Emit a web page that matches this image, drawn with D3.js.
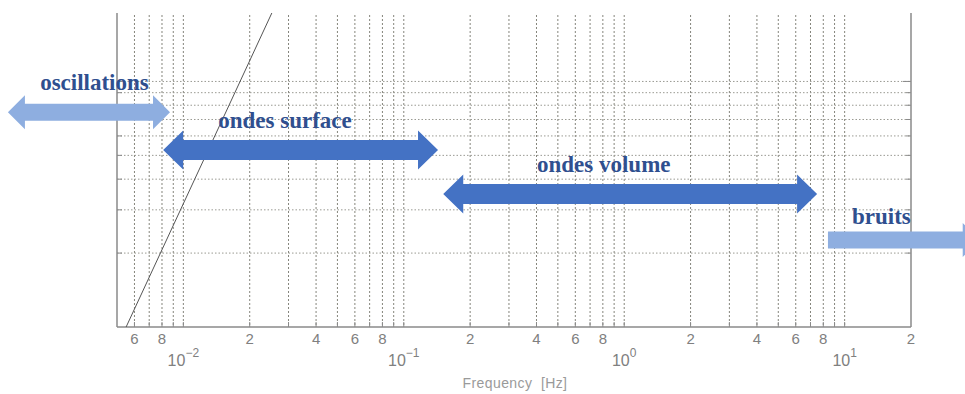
<!DOCTYPE html>
<html>
<head>
<meta charset="utf-8">
<script src="https://cdn.jsdelivr.net/npm/d3@7"></script>
<style>
  html, body { margin: 0; padding: 0; background: #fff; }
  svg { display: block; }
</style>
</head>
<body>
<svg id="chart" width="965" height="394"></svg>
<script>
// axes (log-log)
const freqDomain = [0.005, 20];
const ampDomain = [1, 19];
const minorTickValues = [0.006, 0.008, 0.02, 0.04, 0.06, 0.08, 0.2, 0.4, 0.6, 0.8, 2, 4, 6, 8, 20];
const minorTickLabels = ["6", "8", "2", "4", "6", "8", "2", "4", "6", "8", "2", "4", "6", "8", "2"];
const decadeValues = [0.01, 0.1, 1, 10];
const decadeExponents = ["−2", "−1", "0", "1"];
const ampGridValues = [2, 3, 4, 5, 6, 7, 8, 9, 10];

// straight line on the log-log grid
const slopeLine = [[0.0055, 1], [0.0252, 19]];

// frequency bands, drawn as arrows
const bandNames = ["oscillations", "ondes surface", "ondes volume", "bruits"];
const bandFrom = [0.0016, 0.0081, 0.151, 8.4];
const bandTo = [0.0087, 0.143, 7.5, 41];
const bandLevel = [7.5, 5.26, 3.48, 2.26];
const bandLabelAt = [0.00224, 0.0144, 0.402, 10.8];
const bandTwoWay = [true, true, true, false];
const bandStrong = [false, true, true, false];

const width = 965, height = 394;
const margin = { top: 13, right: 54, bottom: 67, left: 117 };

const svg = d3.select('#chart');

const x = d3.scaleLog().domain(freqDomain).range([margin.left, width - margin.right]);
const y = d3.scaleLog().domain(ampDomain).range([height - margin.bottom, margin.top]);

const x0 = x.range()[0], x1 = x.range()[1];
const yBottom = y.range()[0], yTop = y.range()[1];

// grid
const xGrid = x.ticks().filter(v => v > freqDomain[0] * 1.001 && v < freqDomain[1] * 0.999);

svg.append('g')
  .attr('class', 'grid-x')
  .selectAll('line')
  .data(xGrid)
  .enter()
  .append('line')
  .attr('x1', d => x(d))
  .attr('x2', d => x(d))
  .attr('y1', yTop + 2)
  .attr('y2', yBottom)
  .attr('stroke', '#85857c')
  .attr('stroke-width', 1)
  .attr('stroke-dasharray', '2,2');

svg.append('g')
  .attr('class', 'grid-y')
  .selectAll('line')
  .data(ampGridValues)
  .enter()
  .append('line')
  .attr('x1', x0)
  .attr('x2', x1)
  .attr('y1', d => y(d))
  .attr('y2', d => y(d))
  .attr('stroke', '#9a9a92')
  .attr('stroke-width', 1)
  .attr('stroke-dasharray', '1.5,2');

// frame (no top border in the picture)
const frame = svg.append('g').attr('stroke', '#8a8a8a').attr('stroke-width', 1.5);
frame.append('line').attr('x1', x0).attr('x2', x0).attr('y1', yTop).attr('y2', yBottom);
frame.append('line').attr('x1', x1).attr('x2', x1).attr('y1', yTop).attr('y2', yBottom);
frame.append('line').attr('x1', x0).attr('x2', x1).attr('y1', yBottom).attr('y2', yBottom);

// inward ticks
const ticks = svg.append('g').attr('stroke', '#8a8a8a').attr('stroke-width', 1);
ticks.selectAll('.tb')
  .data(xGrid)
  .enter()
  .append('line')
  .attr('x1', d => x(d)).attr('x2', d => x(d))
  .attr('y1', yBottom).attr('y2', yBottom - 5);
ticks.selectAll('.tl')
  .data(ampGridValues)
  .enter()
  .append('line')
  .attr('x1', x0).attr('x2', d => x0 + (d === 10 ? 8 : 5))
  .attr('y1', d => y(d)).attr('y2', d => y(d));
ticks.selectAll('.tr')
  .data(ampGridValues)
  .enter()
  .append('line')
  .attr('x1', x1).attr('x2', d => x1 - (d === 10 ? 8 : 5))
  .attr('y1', d => y(d)).attr('y2', d => y(d));

// tick labels
const labelFont = '"Liberation Sans", Arial, sans-serif';

svg.append('g')
  .selectAll('text')
  .data(minorTickValues)
  .enter()
  .append('text')
  .attr('x', d => x(d))
  .attr('y', yBottom + 17)
  .attr('text-anchor', 'middle')
  .attr('font-family', labelFont)
  .attr('font-size', 15)
  .attr('fill', '#808080')
  .text((d, i) => minorTickLabels[i]);

const dec = svg.append('g')
  .selectAll('text')
  .data(decadeValues)
  .enter()
  .append('text')
  .attr('x', d => x(d))
  .attr('y', yBottom + 39)
  .attr('text-anchor', 'middle')
  .attr('font-family', labelFont)
  .attr('font-size', 16)
  .attr('fill', '#808080');
dec.append('tspan').text('10');
dec.append('tspan')
  .attr('dy', -9)
  .attr('font-size', 12)
  .text((d, i) => decadeExponents[i]);

svg.append('text')
  .attr('x', (x0 + x1) / 2 + 1)
  .attr('y', yBottom + 61)
  .attr('text-anchor', 'middle')
  .attr('font-family', labelFont)
  .attr('font-size', 14)
  .attr('letter-spacing', 0.4)
  .attr('fill', '#9a9a9a')
  .style('white-space', 'pre')
  .text('Frequency  [Hz]');

// the straight line
svg.append('path')
  .datum(slopeLine)
  .attr('d', d3.line().x(d => x(d[0])).y(d => y(d[1])))
  .attr('fill', 'none')
  .attr('stroke', '#555')
  .attr('stroke-width', 1);

// arrows
function arrowPath(xa, xb, cy, shaft, head, headLen, twoWay) {
  const s = shaft / 2, h = head / 2;
  const p = d3.path();
  if (twoWay) {
    p.moveTo(xa, cy);
    p.lineTo(xa + headLen, cy - h);
    p.lineTo(xa + headLen, cy - s);
  } else {
    p.moveTo(xa, cy - s);
  }
  p.lineTo(xb - headLen, cy - s);
  p.lineTo(xb - headLen, cy - h);
  p.lineTo(xb, cy);
  p.lineTo(xb - headLen, cy + h);
  p.lineTo(xb - headLen, cy + s);
  if (twoWay) {
    p.lineTo(xa + headLen, cy + s);
    p.lineTo(xa + headLen, cy + h);
  } else {
    p.lineTo(xa, cy + s);
  }
  p.closePath();
  return p.toString();
}

const bands = svg.append('g').attr('class', 'bands');
bandNames.forEach((name, i) => {
  const strong = bandStrong[i];
  bands.append('path')
    .attr('d', arrowPath(x(bandFrom[i]), x(bandTo[i]), y(bandLevel[i]),
      strong ? 20 : 17, strong ? 39 : 34, strong ? 20 : 17, bandTwoWay[i]))
    .attr('fill', strong ? '#4472c4' : '#8eaee0');
  bands.append('text')
    .attr('x', x(bandLabelAt[i]))
    .attr('y', y(bandLevel[i]) - (bandTwoWay[i] ? 22 : 16))
    .attr('font-family', '"Liberation Serif", "Times New Roman", serif')
    .attr('font-weight', 'bold')
    .attr('font-size', 23)
    .attr('fill', '#2f4f8f')
    .text(name);
});
</script>
</body>
</html>
